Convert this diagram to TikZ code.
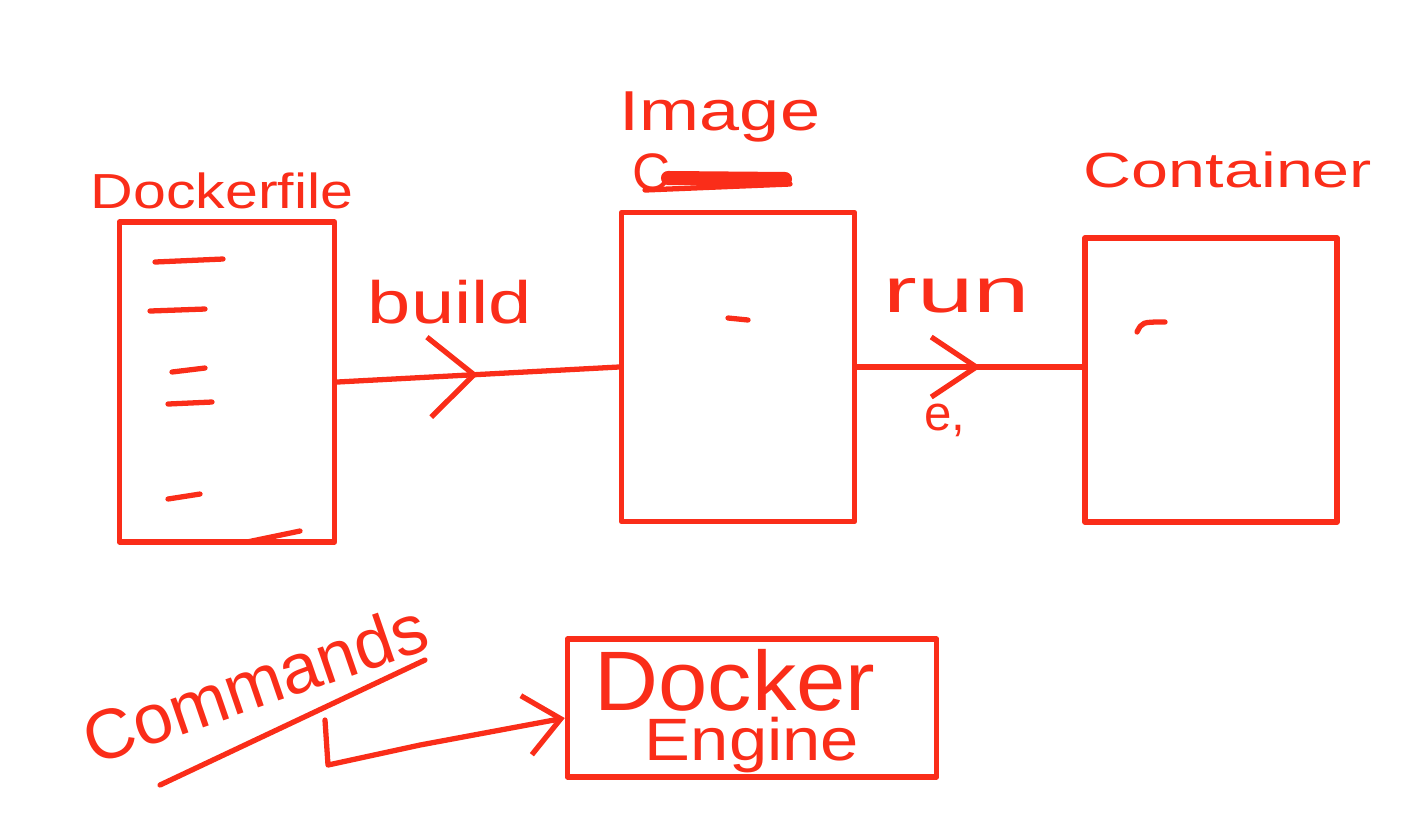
\documentclass[tikz,border=0pt]{standalone}
\usepackage{fontspec}
\setmainfont{Liberation Sans}
\usetikzlibrary{arrows.meta,decorations.markings}
\definecolor{pen}{RGB}{250,45,25}

\begin{document}
\begin{tikzpicture}
	[
		x=0.01cm, y=-0.01cm,
		ink/.style = {draw=pen, line width=1.5pt, line cap=round, line join=round},
		sheet/.style = {shape=rectangle, ink, anchor=center, inner sep=0pt},
		word/.style = {text=pen, inner sep=0pt, anchor=base},
		midarrow/.style 2 args = {postaction={decorate}, decoration={markings,
			mark=at position #1 with {\arrow{Straight Barb[length=0.45cm, width=#2]}}}}
	]
	
	\useasboundingbox (0,0) rectangle (1410,826);
	
	% the three stages
	\node [sheet, minimum width=2.15cm, minimum height=3.2cm] (dfile) at (227,382) {};
	\node [sheet, minimum width=2.33cm, minimum height=3.09cm] (image) at (738,367) {};
	\node [sheet, minimum width=2.52cm, minimum height=2.84cm] (cont) at (1211,380) {};
	
	\node [word, font=\fontsize{14}{16}\selectfont, xscale=1.2] (dfiletxt) at (222,208) {Dockerfile};
	\node [word, font=\fontsize{16}{18}\selectfont, xscale=1.28] (imagetxt) at (720,130) {Image};
	\node [word, font=\fontsize{15}{17}\selectfont] (cachetxt) at (652,190) {C};
	\node [word, font=\fontsize{14}{16}\selectfont, xscale=1.35] (conttxt) at (1228,187) {Container};
	
	\draw [ink, line width=4pt] (668,178) -- (785,179);
	\draw [ink] (645,190) -- (790,184);
	
	% lines of the Dockerfile
	\def\x{120}
	\def\y{222}
	
	\draw [ink] ({\x + 35}, {\y + 40}) -- ({\x + 103}, {\y + 37});
	\draw [ink] ({\x + 30}, {\y + 89}) -- ({\x + 85}, {\y + 87});
	\draw [ink] ({\x + 52}, {\y + 150}) -- ({\x + 85}, {\y + 146});
	\draw [ink] ({\x + 48}, {\y + 182}) -- ({\x + 92}, {\y + 180});
	\draw [ink] ({\x + 48}, {\y + 277}) -- ({\x + 80}, {\y + 272});
	\draw [ink] ({\x + 127}, {\y + 320}) -- ({\x + 180}, {\y + 309});
	
	% marks inside image and container
	\draw [ink] (728,318) -- (748,320);
	\draw [ink] (1137,332) .. controls (1142,322) .. (1165,322);
	
	% build and run
	\draw [ink, midarrow={0.5}{0.8cm}] (dfile.east) -- (image.west);
	\draw [ink, midarrow={0.55}{0.6cm}] (image.east) -- (image.east -| cont.west);
	
	\node [word, font=\fontsize{17}{19}\selectfont, xscale=1.3] (buildtxt) at (450,323) {build};
	\node [word, font=\fontsize{18}{20}\selectfont, xscale=1.6] (runtxt) at (957,312) {run};
	\node [word, font=\fontsize{14}{16}\selectfont] (etxt) at (945,430) {e,};
	
	% engine
	\node [sheet, minimum width=3.69cm, minimum height=1.38cm] (engine) at (752,708) {};
	\node [word, font=\fontsize{24}{26}\selectfont, xscale=1.05] (dockertxt) at (735,710) {Docker};
	\node [word, font=\fontsize{17}{19}\selectfont, xscale=1.15] (enginetxt) at (752,760) {Engine};
	
	\node [word, anchor=center, font=\fontsize{20}{22}\selectfont, rotate=19] (cmdtxt) at (255,683) {Commands};
	\draw [ink] (160,785) -- (425,660);
	
	\coordinate (cmdfoot) at (325,720);
	\draw [ink, -{Straight Barb[length=0.35cm, width=0.6cm]}] (cmdfoot) -- (328,765) -- (420,745) -- ([yshift=-0.1cm]engine.west);
	
\end{tikzpicture}
\end{document}
